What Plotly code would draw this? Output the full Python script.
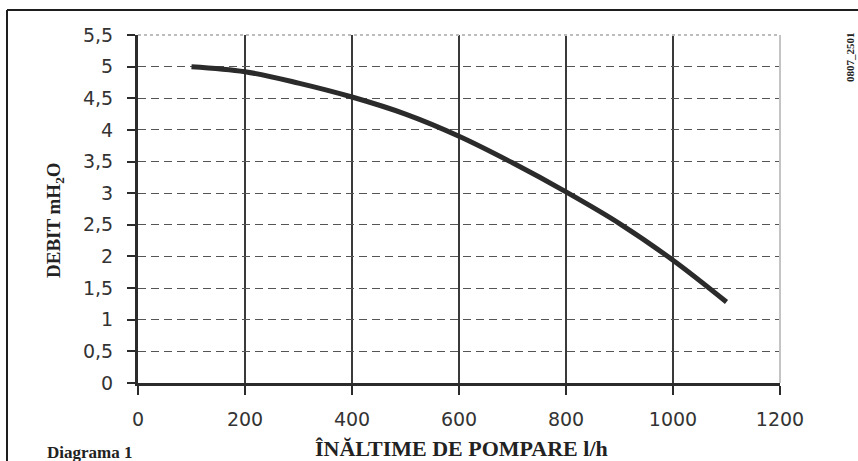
import plotly.graph_objects as go

# Pump curve: flow (l/h) vs. head (m H2O)
flow_lh = [100, 200, 300, 400, 500, 600, 700, 800, 900, 1000, 1100]
head_m = [5.0, 4.92, 4.74, 4.52, 4.25, 3.9, 3.48, 3.02, 2.52, 1.94, 1.28]

x_ticks = [0, 200, 400, 600, 800, 1000, 1200]
x_tick_text = ["0", "200", "400", "600", "800", "1000", "1200"]
y_ticks = [0, 0.5, 1, 1.5, 2, 2.5, 3, 3.5, 4, 4.5, 5, 5.5]
y_tick_text = ["0", "0,5", "1", "1,5", "2", "2,5", "3", "3,5", "4", "4,5", "5", "5,5"]

W, H = 858, 461
L, R, T, B = 138, 780, 35, 383


def px(x):
    return (x - L) / (R - L)


def py(y):
    return (B - y) / (B - T)


ink = "#2b2b2b"
fig = go.Figure()
fig.add_trace(go.Scatter(
    x=flow_lh, y=head_m, mode="lines",
    line=dict(color=ink, width=5, shape="spline", smoothing=1),
    hoverinfo="skip", showlegend=False,
))

tick_font = dict(family="DejaVu Sans", size=19, color="#333333")
serif = "Liberation Serif"

fig.update_layout(
    width=W, height=H,
    margin=dict(l=L, r=W - R, t=T, b=H - B),
    paper_bgcolor="white", plot_bgcolor="white",
    xaxis=dict(
        range=[0, 1200], tickvals=x_ticks, ticktext=x_tick_text,
        showgrid=True, gridcolor="#3a3a3a", gridwidth=1.6,
        showline=True, linecolor=ink, linewidth=3,
        ticks="outside", ticklen=9, tickwidth=2, tickcolor=ink,
        tickfont=tick_font, ticklabelstandoff=8, zeroline=False,
    ),
    yaxis=dict(
        range=[0, 5.5], tickvals=y_ticks, ticktext=y_tick_text,
        showgrid=True, gridcolor="#555555", gridwidth=1.4, griddash="8px,5px",
        showline=True, linecolor=ink, linewidth=3,
        ticks="outside", ticklen=8, tickwidth=2, tickcolor=ink,
        tickfont=tick_font, ticklabelstandoff=10, zeroline=False,
    ),
    shapes=[
        # light plot-area border (top and right)
        dict(type="line", xref="paper", yref="paper", x0=0, x1=1, y0=1, y1=1,
             line=dict(color="#bdbdbd", width=2, dash="dot"), layer="above"),
        dict(type="line", xref="paper", yref="paper", x0=1, x1=1, y0=0, y1=1,
             line=dict(color="#c4c4c4", width=2), layer="above"),
        # outer frame
        dict(type="line", xref="paper", yref="paper",
             x0=px(7), x1=px(W + 5), y0=py(10), y1=py(10),
             line=dict(color="#1e1e1e", width=2)),
        dict(type="line", xref="paper", yref="paper",
             x0=px(7), x1=px(7), y0=py(10), y1=py(H + 5),
             line=dict(color="#1e1e1e", width=2)),
    ],
    annotations=[
        dict(text="<b>DEBIT mH<sub>2</sub>O</b>", xref="paper", yref="paper",
             x=px(55), y=py(220), textangle=-90, showarrow=False,
             font=dict(family=serif, size=19, color="#222222"),
             xanchor="center", yanchor="middle"),
        dict(text="<b>ÎNĂLTIME DE POMPARE l/h</b>", xref="paper", yref="paper",
             x=px(461), y=py(434), showarrow=False,
             font=dict(family=serif, size=22, color="#222222"),
             xanchor="center", yanchor="top"),
        dict(text="<b>Diagrama 1</b>", xref="paper", yref="paper",
             x=px(45), y=py(452), showarrow=False,
             font=dict(family=serif, size=17, color="#222222"),
             xanchor="left", yanchor="middle"),
        dict(text="<b>0807_2501</b>", xref="paper", yref="paper",
             x=px(850), y=py(57), textangle=-90, showarrow=False,
             font=dict(family=serif, size=11, color="#222222"),
             xanchor="center", yanchor="middle"),
    ],
)

fig.write_html("out.html")
